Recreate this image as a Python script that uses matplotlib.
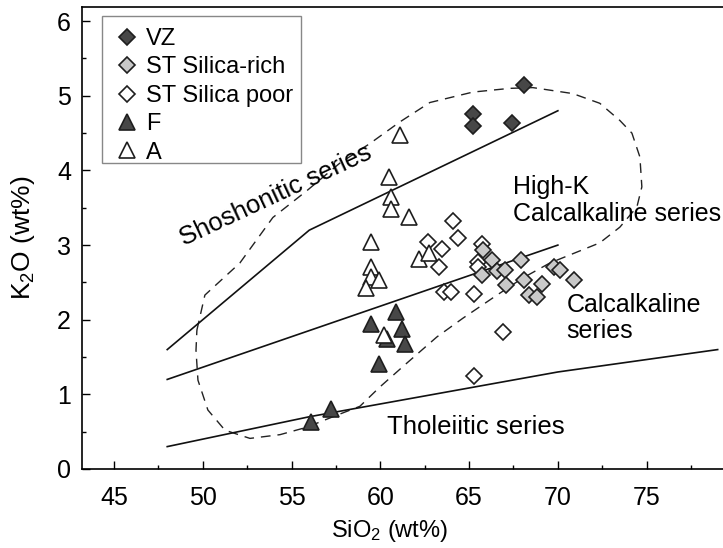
import matplotlib
matplotlib.use("Agg")
import matplotlib.pyplot as plt
from matplotlib.patches import Rectangle
from matplotlib.ticker import MultipleLocator

plt.rcParams['font.family'] = ['Liberation Sans', 'DejaVu Sans']
plt.rcParams['mathtext.fontset'] = 'custom'
plt.rcParams['mathtext.rm'] = 'Liberation Sans'
plt.rcParams['mathtext.it'] = 'Liberation Sans:italic'

# --- sample groups (SiO2 wt%, K2O wt%) ---
vz_sio2 = [65.2, 65.2, 67.4, 68.1]
vz_k2o = [4.76, 4.60, 4.63, 5.14]

st_rich_sio2 = [65.8, 66.3, 65.7, 66.6, 67.0, 67.1, 67.9, 68.1, 69.1, 68.4, 68.8, 69.8, 70.1, 70.9]
st_rich_k2o = [2.93, 2.80, 2.60, 2.65, 2.66, 2.46, 2.80, 2.53, 2.48, 2.33, 2.30, 2.71, 2.66, 2.53]

st_poor_sio2 = [64.1, 64.4, 62.7, 63.5, 63.3, 63.6, 64.0, 65.3, 65.7, 65.5, 65.5, 66.9, 65.3]
st_poor_k2o = [3.32, 3.09, 3.04, 2.95, 2.71, 2.37, 2.37, 2.35, 3.02, 2.78, 2.71, 1.84, 1.24]

f_sio2 = [60.9, 59.5, 61.2, 60.35, 61.4, 59.9, 57.2, 56.1]
f_k2o = [2.11, 1.94, 1.87, 1.74, 1.68, 1.41, 0.81, 0.63]

a_sio2 = [61.1, 60.5, 60.6, 60.6, 61.6, 59.5, 59.5, 59.5, 59.9, 59.2, 62.2, 62.75, 60.2]
a_k2o = [4.48, 3.91, 3.65, 3.49, 3.38, 3.04, 2.70, 2.57, 2.53, 2.43, 2.82, 2.89, 1.79]

# --- series boundaries ---
sho_sio2 = [48, 56, 70]
sho_k2o = [1.6, 3.2, 4.8]
hk_sio2 = [48, 70]
hk_k2o = [1.2, 3.0]
th_sio2 = [48, 52, 56, 63, 70, 79]
th_k2o = [0.3, 0.5, 0.7, 1.0, 1.3, 1.6]

# --- outline of the sample field ---
field_sio2 = [49.67, 50.12, 52.09, 53.95, 55.87, 57.73, 59.41, 61.10, 62.79, 65.21,
              67.30, 68.59, 70.84, 72.36, 73.49, 74.17, 74.62, 74.73, 74.45, 73.49,
              72.36, 69.55, 68.03, 66.57, 64.65, 63.19, 61.50, 59.98, 58.85, 57.33,
              55.87, 54.35, 52.66, 51.25, 50.29, 49.73, 49.62, 49.67]
field_k2o = [1.86, 2.33, 2.76, 3.37, 3.73, 4.10, 4.36, 4.65, 4.91, 5.05,
             5.10, 5.11, 5.03, 4.90, 4.67, 4.50, 4.18, 3.78, 3.51, 3.24,
             3.03, 2.76, 2.56, 2.33, 2.02, 1.77, 1.42, 1.10, 0.84, 0.70,
             0.56, 0.46, 0.41, 0.52, 0.79, 1.19, 1.59, 1.86]

x_ticks = [45, 50, 55, 60, 65, 70, 75]
y_ticks = [0, 1, 2, 3, 4, 5, 6]

fig = plt.figure(figsize=(7.23, 5.48), dpi=100)
ax = fig.add_axes([82 / 723, 1 - 469 / 548, 1 - 82 / 723, (469 - 7) / 548])

dark = '#474747'
edge = '#1e1e1e'

ax.plot(field_sio2, field_k2o, color='#222222', lw=1.0, ls=(0, (7, 5)), zorder=2)
for xs, ys in [(sho_sio2, sho_k2o), (hk_sio2, hk_k2o), (th_sio2, th_k2o)]:
    ax.plot(xs, ys, color='#111111', lw=1.2, zorder=2)

dms = 8.0
tms = 11.0
ax.plot(vz_sio2, vz_k2o, 'D', ms=dms, mfc=dark, mec=edge, mew=1.2, ls='none', label='VZ', zorder=4)
ax.plot(st_rich_sio2, st_rich_k2o, 'D', ms=dms, mfc='#c9c9c9', mec=edge, mew=1.2, ls='none',
        label='ST Silica-rich', zorder=4)
ax.plot(st_poor_sio2, st_poor_k2o, 'D', ms=dms, mfc='white', mec=edge, mew=1.2, ls='none',
        label='ST Silica poor', zorder=3)
ax.plot(f_sio2, f_k2o, '^', ms=tms, mfc=dark, mec=edge, mew=1.2, ls='none', label='F', zorder=3)
ax.plot(a_sio2, a_k2o, '^', ms=tms, mfc='white', mec=edge, mew=1.2, ls='none', label='A', zorder=4)

ax.text(54.1, 3.67, 'Shoshonitic series', fontsize=18.5, rotation=25, ha='center', va='center')
ax.text(67.45, 3.60, 'High-K\nCalcalkaline series', fontsize=18, ha='left', va='center',
        linespacing=1.15)
ax.text(70.5, 2.02, 'Calcalkaline\nseries', fontsize=18, ha='left', va='center', linespacing=1.1)
ax.text(60.4, 0.56, 'Tholeiitic series', fontsize=18.5, ha='left', va='center')

ax.set_xlim(43.2, 79.3)
ax.set_ylim(0, 6.19)
ax.set_xticks(x_ticks)
ax.set_yticks(y_ticks)
ax.xaxis.set_minor_locator(MultipleLocator(2.5))
ax.yaxis.set_minor_locator(MultipleLocator(0.5))
ax.tick_params(which='major', direction='in', length=6, width=1, labelsize=18)
ax.tick_params(axis='x', which='major', pad=12)
ax.tick_params(axis='y', which='major', pad=8)
ax.tick_params(which='minor', direction='in', length=3, width=1)
ax.spines['right'].set_visible(False)
for s in ['left', 'bottom', 'top']:
    ax.spines[s].set_linewidth(1.2)

ax.set_xlabel(r'SiO$_2$ (wt%)', fontsize=17)
ax.set_ylabel(r'K$_2$O (wt%)', fontsize=19)
ax.xaxis.set_label_coords(0.48, -0.105)
ax.yaxis.set_label_coords(-0.07, 0.5)

# legend box drawn as a plain rectangle around a frameless legend
ax.add_patch(Rectangle((0.0312, 0.662), 0.310, 0.318, transform=ax.transAxes,
                       facecolor='white', edgecolor='#888888', lw=1.0, zorder=5))
leg = ax.legend(loc='upper left', bbox_to_anchor=(0.0515, 0.9545),
                borderaxespad=0, fontsize=17, frameon=False, borderpad=0,
                handletextpad=0.3, handlelength=1.0, labelspacing=0.27)
leg.set_zorder(6)

fig.savefig('out.png', dpi=100)
